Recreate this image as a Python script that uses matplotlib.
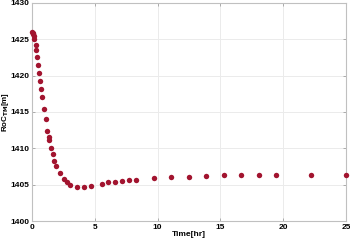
import numpy as np
import matplotlib.pyplot as plt

plt.rcParams['font.family'] = ['Liberation Sans', 'DejaVu Sans']

time_hr = [0.0, 0.06, 0.1, 0.16, 0.18, 0.29, 0.34, 0.4, 0.48, 0.56, 0.64, 0.74,
           0.82, 0.96, 1.12, 1.22, 1.33, 1.38, 1.51, 1.67, 1.78, 1.94, 2.23,
           2.53, 2.79, 3.05, 3.61, 4.17, 4.73, 5.55, 6.08, 6.64, 7.19, 7.75,
           8.31, 9.72, 11.1, 12.49, 13.87, 15.27, 16.63, 18.06, 19.44, 22.23,
           25.0]
roc_m = [1426.0, 1425.9, 1425.7, 1425.5, 1425.0, 1424.2, 1423.5, 1422.5,
         1421.4, 1420.3, 1419.2, 1418.1, 1417.0, 1415.4, 1414.0, 1412.4,
         1411.5, 1411.1, 1410.1, 1409.2, 1408.3, 1407.6, 1406.6, 1405.8,
         1405.4, 1405.0, 1404.7, 1404.7, 1404.8, 1405.1, 1405.3, 1405.3,
         1405.5, 1405.6, 1405.7, 1405.9, 1406.0, 1406.1, 1406.2, 1406.3,
         1406.3, 1406.3, 1406.3, 1406.3, 1406.3]

fig = plt.figure(figsize=(3.5, 2.43), dpi=100)
ax = fig.add_axes([0.0914, 0.0905, 0.8972, 0.8972])

ax.plot(time_hr, roc_m, 'o', color='#A2142F', markersize=3.9,
        markeredgewidth=0, clip_on=False, zorder=3)

ax.set_xlim(0, 25)
ax.set_ylim(1400, 1430)
ax.set_xticks([0, 5, 10, 15, 20, 25])
ax.set_yticks(np.arange(1400, 1431, 5))
ax.grid(True, color='#ebebeb', linewidth=0.7)
ax.set_axisbelow(True)
for s in ax.spines.values():
    s.set_color('#c0c0c0')
    s.set_linewidth(0.8)
ax.tick_params(direction='in', length=2, width=0.6, color='#a0a0a0',
               labelsize=6, pad=2, top=True, right=True)
for lab in ax.get_xticklabels() + ax.get_yticklabels():
    lab.set_fontweight('bold')

ax.set_xlabel('Time[hr]', fontsize=6, fontweight='bold', labelpad=0)
ax.set_ylabel(r'RoC$_{\mathbf{TM}}$[m]', fontsize=5.8, fontweight='bold')
ax.yaxis.set_label_coords(-0.067, 0.5)

fig.savefig('out.png', dpi=100)
